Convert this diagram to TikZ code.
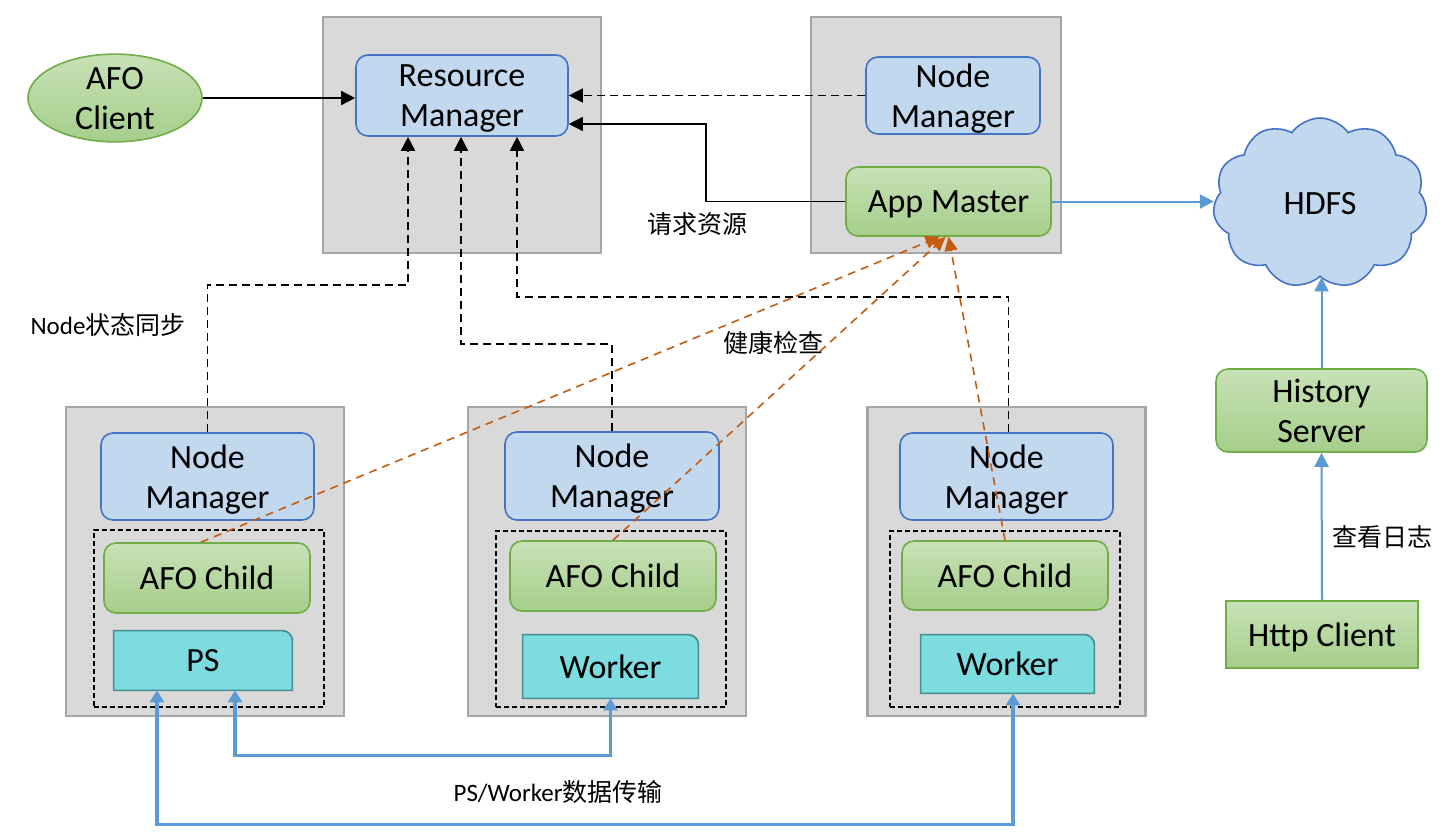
\documentclass[tikz,border=0pt]{standalone}
\usepackage{fontspec}
\setmainfont{Carlito}
\newfontfamily\cjk{Noto Sans CJK SC}
\usetikzlibrary{arrows.meta,shapes.geometric,shapes.symbols}
\definecolor{grayfill}{RGB}{217,217,217}
\definecolor{grayline}{RGB}{166,166,166}
\definecolor{bluefill}{RGB}{194,216,239}
\definecolor{blueline}{RGB}{68,114,196}
\definecolor{greenline}{RGB}{112,173,71}
\definecolor{greentop}{RGB}{200,226,183}
\definecolor{greenbot}{RGB}{165,206,138}
\definecolor{cyanfill}{RGB}{124,220,224}
\definecolor{cyanline}{RGB}{70,140,145}
\definecolor{orangeline}{RGB}{197,90,17}
\definecolor{arrowblue}{RGB}{91,155,213}
\newcommand\cyanshape[1]{\draw[cyanstroke] (#1.south west) -- (#1.north west) -- ([xshift=-5pt]#1.north east) arc[start angle=90,end angle=0,radius=5pt] -- (#1.south east) -- cycle;}
\tikzset{
  graybox/.style={draw=grayline, fill=grayfill, line width=1.1pt, inner sep=0pt},
  txt/.style={font=\fontsize{17}{20}\selectfont, align=center, text depth=0pt},
  bluebox/.style={txt, rounded corners=6pt, draw=blueline, fill=bluefill, line width=0.8pt, inner sep=0pt},
  greenbox/.style={txt, rounded corners=6pt, draw=greenline, top color=greentop, bottom color=greenbot, line width=0.8pt, inner sep=0pt},
  cyanbox/.style={inner sep=0pt},
  cyanstroke/.style={draw=cyanline, fill=cyanfill, line width=0.8pt},
  dashbox/.style={draw=black, dashed, dash pattern=on 2.5pt off 1.5pt, line width=0.6pt, inner sep=0pt},
  lbl/.style={font=\fontsize{12.5}{14}\selectfont\cjk},
  blk/.style={draw=black, line width=0.75pt, -{Triangle[length=7pt,width=7pt]}},
  blkdash/.style={blk, line width=0.85pt, dash pattern=on 4pt off 2.5pt},
  orng/.style={draw=orangeline, line width=0.8pt, dash pattern=on 4pt off 3pt, -{Triangle[length=7pt,width=6.5pt]}},
  bthin/.style={draw=arrowblue, line width=1pt, -{Triangle[length=7pt,width=7pt]}},
  bthick/.style={draw=arrowblue, line width=1.8pt, {Triangle[length=6pt,width=7pt]}-{Triangle[length=6pt,width=7pt]}},
}
\begin{document}
\begin{tikzpicture}[x=0.5pt,y=-0.5pt]
\useasboundingbox (0,0) rectangle (1450,836);
% top containers
\node[graybox, minimum width=139pt, minimum height=118pt] (gtc) at (462,135) {};
\node[graybox, minimum width=125pt, minimum height=118pt] (gtr) at (936,135) {};
\node[bluebox, minimum width=106pt, minimum height=40.5pt] (rm) at (462,95.5) {Resource\\Manager};
\node[bluebox, minimum width=87pt, minimum height=38.5pt] (nmt) at (953,95.5) {Node\\Manager};
\node[greenbox, minimum width=102.5pt, minimum height=34.5pt] (am) at (948.5,201.5) {App Master};
\node[txt, ellipse, draw=greenline, line width=0.8pt, top color=greentop, bottom color=greenbot, minimum width=87pt, minimum height=41pt, inner sep=0pt] (afo) at (115,98) {AFO\\Client};
\node[txt, cloud, cloud puffs=11, cloud puff arc=110, aspect=1.3, draw=blueline, fill=bluefill, line width=0.8pt, minimum width=107pt, minimum height=85pt, inner sep=0pt] (hdfs) at (1320,203) {HDFS};
\node[greenbox, minimum width=105.5pt, minimum height=41.5pt] (hist) at (1321.5,410.5) {History\\Server};
\node[greenbox, rounded corners=0pt, minimum width=96pt, minimum height=33.5pt] (http) at (1322,634.5) {Http Client};
% bottom containers
\node[graybox, minimum width=139pt, minimum height=154.5pt] (gl) at (205,561.5) {};
\node[graybox, minimum width=139pt, minimum height=154.5pt] (gm) at (607,561.5) {};
\node[graybox, minimum width=139pt, minimum height=154.5pt] (gr) at (1006.5,561.5) {};
\node[dashbox, minimum width=115pt, minimum height=88.5pt] (dl) at (209,618.5) {};
\node[dashbox, minimum width=115pt, minimum height=88pt] (dm) at (611,619) {};
\node[dashbox, minimum width=115pt, minimum height=88pt] (dr) at (1005,619) {};
\node[bluebox, minimum width=106.5pt, minimum height=43.5pt] (nml) at (207.5,476.5) {Node\\Manager};
\node[bluebox, minimum width=107pt, minimum height=44pt] (nmm) at (612,476) {Node\\Manager};
\node[bluebox, minimum width=106.5pt, minimum height=43.5pt] (nmr) at (1006.5,476.5) {Node\\Manager};
\node[greenbox, minimum width=103pt, minimum height=35pt] (acl) at (207,578) {AFO Child};
\node[greenbox, minimum width=103pt, minimum height=35pt] (acm) at (613,576) {AFO Child};
\node[greenbox, minimum width=103pt, minimum height=34.5pt] (acr) at (1005,575.5) {AFO Child};
\node[cyanbox, minimum width=89pt, minimum height=29.5pt] (ps) at (203,660.5) {};
\cyanshape{ps}
\node[txt] (pst) at (ps.center) {PS};
\node[cyanbox, minimum width=87.5pt, minimum height=31.5pt] (wm) at (610.5,666.5) {};
\cyanshape{wm}
\node[txt] (wmt) at (wm.center) {Worker};
\node[cyanbox, minimum width=86.5pt, minimum height=29pt] (wr) at (1007.5,664) {};
\cyanshape{wr}
\node[txt] (wrt) at (wr.center) {Worker};
% connectors top
\draw[blk] (afo.east) -- (afo.east -| rm.west);
\draw[blkdash] (nmt.west) -- (nmt.west -| rm.east);
\coordinate (k1) at (706,124);
\draw[blk] (am.west) -| (k1) -- (k1 -| rm.east);
\draw[bthin] (am.east) -- (am.east -| hdfs.west);
\draw[bthin] (hist.north) -- (hist.north |- hdfs.south);
\draw[bthin] (http.north) -- (hist.south);
% dashed NM -> RM
\coordinate (d1) at (408,285);
\coordinate (d2) at (461,344);
\coordinate (d3) at (517,297);
\draw[blkdash] (nml.north) |- (d1) -- (d1 |- rm.south);
\draw[blkdash] (nmm.north) |- (d2) -- (d2 |- rm.south);
\draw[blkdash] ([xshift=1pt]nmr.north) |- (d3) -- (d3 |- rm.south);
% orange health checks
\draw[orng] ([xshift=-3pt]acl.north) -- ([xshift=-4.5pt]am.south);
\draw[orng] (acm.north) -- ([xshift=-1.5pt]am.south);
\draw[orng] (acr.north) -- ([xshift=0pt]am.south);
% blue data transfer
\draw[bthick] ([xshift=16pt]ps.south) -- ++(0,65) -| (wm.south);
\draw[bthick] ([xshift=-23pt]ps.south) -- ++(0,134) -| ([xshift=2.75pt]wr.south);
% labels
\node[lbl] (l1) at (697,224) {请求资源};
\node[lbl] (l2) at (108,325) {\fontspec{Carlito}Node\cjk 状态同步};
\node[lbl] (l3) at (773,343) {健康检查};
\node[lbl] (l4) at (1382,537) {查看日志};
\node[lbl] (l5) at (558,792) {\fontspec{Carlito}PS/Worker\cjk 数据传输};
\end{tikzpicture}
\end{document}
